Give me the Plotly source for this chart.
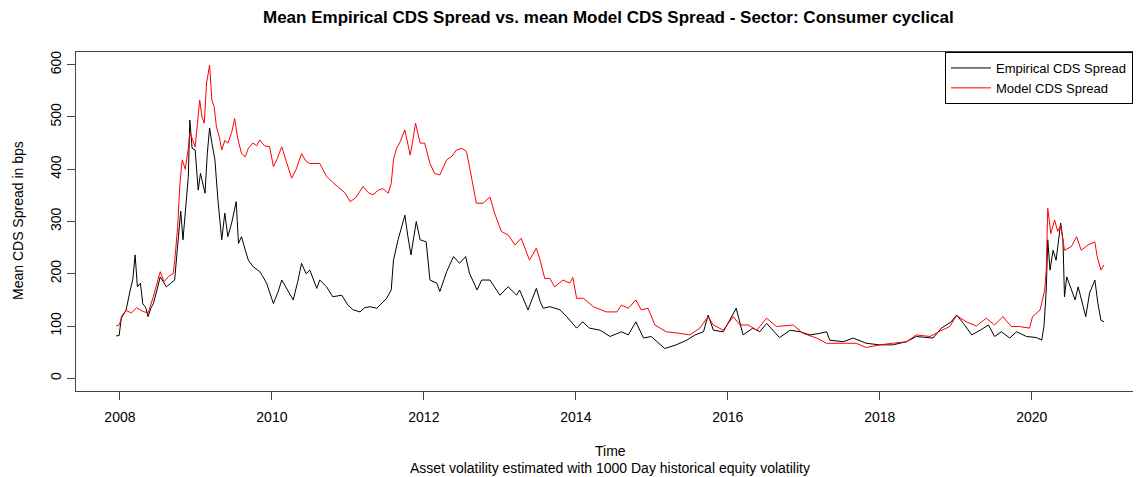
import plotly.graph_objects as go

# Decimal-year time stamps and values
emp_time = [2007.95, 2007.99, 2008.02, 2008.08, 2008.13, 2008.17, 2008.20, 2008.23, 2008.27, 2008.30,
            2008.34, 2008.37, 2008.41, 2008.44, 2008.49, 2008.53, 2008.57, 2008.61, 2008.67, 2008.72,
            2008.77, 2008.80, 2008.83, 2008.87, 2008.90, 2008.92, 2008.95, 2008.99, 2009.03, 2009.06,
            2009.09, 2009.12, 2009.15, 2009.18, 2009.21, 2009.25, 2009.29, 2009.34, 2009.38, 2009.42,
            2009.47, 2009.53, 2009.56, 2009.60, 2009.65, 2009.69, 2009.75, 2009.84, 2009.88, 2009.93,
            2010.02, 2010.08, 2010.13, 2010.20, 2010.28, 2010.34, 2010.39, 2010.45, 2010.50, 2010.59,
            2010.63, 2010.72, 2010.80, 2010.92, 2011.00, 2011.07, 2011.16, 2011.22, 2011.29, 2011.38,
            2011.45, 2011.51, 2011.57, 2011.60, 2011.66, 2011.71, 2011.75, 2011.79, 2011.83, 2011.90,
            2011.95, 2012.03, 2012.08, 2012.17, 2012.21, 2012.30, 2012.39, 2012.47, 2012.55, 2012.60,
            2012.70, 2012.76, 2012.87, 2013.00, 2013.11, 2013.22, 2013.26, 2013.37, 2013.48, 2013.53,
            2013.57, 2013.66, 2013.79, 2013.88, 2014.01, 2014.09, 2014.18, 2014.32, 2014.45, 2014.60,
            2014.69, 2014.79, 2014.89, 2014.99, 2015.17, 2015.32, 2015.46, 2015.57, 2015.68, 2015.74,
            2015.81, 2015.94, 2016.11, 2016.20, 2016.33, 2016.42, 2016.51, 2016.68, 2016.82, 2016.95,
            2017.08, 2017.21, 2017.30, 2017.34, 2017.52, 2017.65, 2017.82, 2018.00, 2018.17, 2018.35,
            2018.48, 2018.70, 2018.81, 2018.94, 2019.01, 2019.10, 2019.21, 2019.32, 2019.43, 2019.51,
            2019.60, 2019.71, 2019.80, 2019.93, 2020.06, 2020.13, 2020.16, 2020.19, 2020.21, 2020.24,
            2020.28, 2020.32, 2020.38, 2020.41, 2020.43, 2020.46, 2020.52, 2020.57, 2020.61, 2020.65,
            2020.71, 2020.76, 2020.83, 2020.87, 2020.91, 2020.95]
emp_value = [81, 82, 118, 130, 165, 190, 236, 175, 182, 143,
             135, 118, 135, 143, 170, 194, 185, 175, 182, 188,
             271, 320, 265, 330, 386, 494, 440, 437, 360, 392,
             370, 354, 430, 479, 450, 418, 341, 265, 316, 271,
             297, 338, 258, 271, 245, 226, 214, 204, 195, 182,
             143, 165, 188, 170, 150, 185, 220, 200, 207, 172,
             188, 175, 156, 159, 140, 131, 127, 135, 137, 134,
             145, 153, 169, 226, 265, 290, 312, 271, 236, 300,
             265, 261, 188, 182, 166, 204, 233, 220, 233, 201,
             169, 188, 188, 159, 175, 159, 169, 131, 172, 147,
             134, 137, 131, 118, 96, 108, 96, 92, 80, 89,
             83, 108, 77, 80, 57, 64, 73, 83, 89, 121,
             92, 89, 134, 83, 96, 89, 105, 78, 92, 89,
             83, 86, 89, 73, 70, 77, 67, 64, 64, 70,
             80, 77, 96, 108, 121, 105, 83, 92, 102, 80,
             89, 77, 89, 80, 78, 73, 99, 169, 265, 207,
             245, 226, 297, 265, 156, 194, 172, 150, 175, 150,
             118, 163, 188, 143, 111, 108]

mod_time = [2007.95, 2007.99, 2008.02, 2008.08, 2008.15, 2008.22, 2008.30, 2008.37, 2008.44, 2008.49,
            2008.53, 2008.58, 2008.64, 2008.70, 2008.72, 2008.76, 2008.79, 2008.82, 2008.86, 2008.90,
            2008.92, 2008.96, 2008.99, 2009.05, 2009.08, 2009.11, 2009.14, 2009.18, 2009.21, 2009.24,
            2009.27, 2009.31, 2009.34, 2009.38, 2009.42, 2009.47, 2009.51, 2009.55, 2009.60, 2009.65,
            2009.69, 2009.75, 2009.80, 2009.84, 2009.90, 2009.97, 2010.02, 2010.07, 2010.13, 2010.20,
            2010.26, 2010.32, 2010.39, 2010.45, 2010.50, 2010.63, 2010.72, 2010.80, 2010.89, 2010.96,
            2011.03, 2011.10, 2011.20, 2011.27, 2011.33, 2011.40, 2011.46, 2011.53, 2011.57, 2011.60,
            2011.64, 2011.68, 2011.75, 2011.82, 2011.86, 2011.89, 2011.95, 2012.01, 2012.08, 2012.14,
            2012.21, 2012.30, 2012.37, 2012.43, 2012.50, 2012.56, 2012.60, 2012.69, 2012.78, 2012.87,
            2012.93, 2013.02, 2013.11, 2013.20, 2013.28, 2013.39, 2013.48, 2013.53, 2013.59, 2013.66,
            2013.72, 2013.83, 2013.92, 2013.96, 2014.01, 2014.10, 2014.23, 2014.40, 2014.54, 2014.60,
            2014.69, 2014.79, 2014.86, 2014.95, 2015.04, 2015.19, 2015.37, 2015.50, 2015.63, 2015.74,
            2015.81, 2015.94, 2016.07, 2016.16, 2016.27, 2016.38, 2016.51, 2016.64, 2016.86, 2016.99,
            2017.17, 2017.30, 2017.52, 2017.69, 2017.82, 2018.00, 2018.17, 2018.35, 2018.48, 2018.66,
            2018.79, 2018.92, 2019.01, 2019.14, 2019.27, 2019.40, 2019.51, 2019.62, 2019.73, 2019.84,
            2019.97, 2020.01, 2020.11, 2020.17, 2020.19, 2020.21, 2020.25, 2020.30, 2020.34, 2020.38,
            2020.43, 2020.52, 2020.59, 2020.65, 2020.74, 2020.83, 2020.86, 2020.91, 2020.95]
mod_value = [100, 102, 115, 130, 125, 135, 128, 125, 156, 185,
             204, 185, 195, 200, 223, 290, 373, 418, 400, 440,
             469, 455, 443, 532, 500, 488, 565, 599, 532, 520,
             481, 460, 437, 455, 450, 470, 497, 459, 430, 424,
             440, 450, 445, 456, 445, 443, 405, 420, 443, 410,
             383, 400, 430, 415, 411, 411, 386, 375, 363, 355,
             338, 345, 367, 355, 351, 360, 363, 354, 373, 418,
             440, 450, 475, 427, 460, 488, 450, 450, 411, 392,
             389, 418, 425, 437, 440, 434, 405, 335, 335, 347,
             316, 281, 274, 255, 268, 226, 249, 226, 191, 191,
             175, 188, 182, 193, 153, 153, 137, 127, 127, 140,
             134, 150, 131, 134, 102, 89, 86, 83, 96, 118,
             102, 92, 118, 102, 102, 92, 115, 99, 102, 86,
             77, 67, 67, 67, 59, 64, 67, 70, 83, 80,
             90, 99, 120, 108, 100, 115, 102, 118, 99, 99,
             96, 118, 131, 169, 207, 325, 277, 303, 281, 293,
             245, 252, 271, 245, 255, 261, 233, 207, 217]

x_ticks = [2008, 2010, 2012, 2014, 2016, 2018, 2020]
y_ticks = [0, 100, 200, 300, 400, 500, 600]

FONT = "Liberation Sans, Arial, sans-serif"
OFF = 8      # page body margin of the generated html
EXTRA = 30   # figure extends past the window so the legend box runs off the right edge
W, H = 1141 - OFF + EXTRA, 477 - OFF
L, R, T, B = 76 - OFF, EXTRA, 52 - OFF, 86
pw, ph = W - L - R, H - T - B
AX = "#444444"

def px(ref_x):
    return (ref_x - OFF - L) / pw

def py(ref_y):
    return (H - B - (ref_y - OFF)) / ph

fig = go.Figure()
fig.add_trace(go.Scatter(x=emp_time, y=emp_value, mode="lines", name="Empirical CDS Spread",
                         line=dict(color="black", width=1)))
fig.add_trace(go.Scatter(x=mod_time, y=mod_value, mode="lines", name="Model CDS Spread",
                         line=dict(color="red", width=1)))

fig.update_layout(
    width=W, height=H,
    margin=dict(l=L, r=R, t=T, b=B, pad=0),
    paper_bgcolor="white", plot_bgcolor="white",
    font=dict(family=FONT, size=14, color="black"),
    showlegend=True,
    legend=dict(x=px(945), y=1, xanchor="left", yanchor="top",
                bgcolor="white", bordercolor="black", borderwidth=1,
                font=dict(family=FONT, size=13, color="black"),
                itemwidth=40, tracegroupgap=0),
    xaxis=dict(range=[2007.422, 2021.437], tickvals=x_ticks,
               ticktext=[str(v) for v in x_ticks],
               showgrid=False, zeroline=False, showline=True, linecolor=AX, linewidth=1,
               mirror=True, ticks="outside", ticklen=8, tickcolor=AX, ticklabelstandoff=5,
               tickfont=dict(family=FONT, size=14, color="black")),
    yaxis=dict(range=[-24.3, 624.3], tickvals=y_ticks,
               showgrid=False, zeroline=False, showline=True, linecolor=AX, linewidth=1,
               mirror=True, ticks="outside", ticklen=8, tickcolor=AX, tickangle=-90,
               ticklabelstandoff=0,
               tickfont=dict(family=FONT, size=14, color="black")),
    annotations=[
        dict(text="<b>Mean Empirical CDS Spread vs. mean Model CDS Spread - Sector: Consumer cyclical</b>",
             xref="paper", yref="paper", x=px(608.5), y=py(17.5), xanchor="center", yanchor="middle",
             showarrow=False, font=dict(family=FONT, size=17, color="black")),
        dict(text="Time", xref="paper", yref="paper", x=px(610), y=py(451),
             xanchor="center", yanchor="middle", showarrow=False,
             font=dict(family=FONT, size=14, color="black")),
        dict(text="Asset volatility estimated with 1000 Day historical equity volatility",
             xref="paper", yref="paper", x=px(610), y=py(468),
             xanchor="center", yanchor="middle", showarrow=False,
             font=dict(family=FONT, size=14, color="black")),
        dict(text="Mean CDS Spread in bps", xref="paper", yref="paper", x=px(18), y=py(221),
             xanchor="center", yanchor="middle", textangle=-90, showarrow=False,
             font=dict(family=FONT, size=14, color="black")),
    ],
)

fig.write_html("out.html")
